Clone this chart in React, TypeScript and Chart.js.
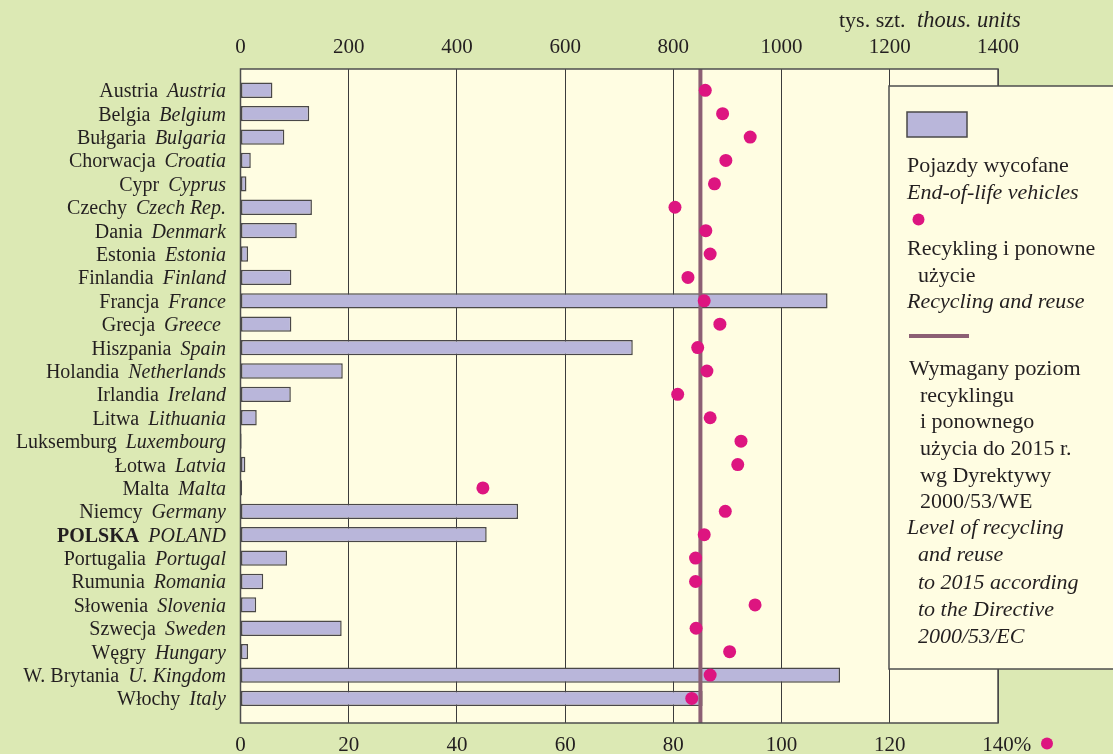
import { useEffect, useRef } from "react";
import { Chart, registerables } from "chart.js";

Chart.register(...registerables);

const namesPL = ["Austria", "Belgia", "Bułgaria", "Chorwacja", "Cypr", "Czechy", "Dania", "Estonia", "Finlandia", "Francja", "Grecja", "Hiszpania", "Holandia", "Irlandia", "Litwa", "Luksemburg", "Łotwa", "Malta", "Niemcy", "POLSKA", "Portugalia", "Rumunia", "Słowenia", "Szwecja", "Węgry", "W. Brytania", "Włochy"];
const namesEN = ["Austria", "Belgium", "Bulgaria", "Croatia", "Cyprus", "Czech Rep.", "Denmark", "Estonia", "Finland", "France", "Greece ", "Spain", "Netherlands", "Ireland", "Lithuania", "Luxembourg", "Latvia", "Malta", "Germany", "POLAND", "Portugal", "Romania", "Slovenia", "Sweden", "Hungary", "U. Kingdom", "Italy"];
const vehicles = [59, 127, 81, 19, 11, 132, 104, 14, 94, 1085, 94, 725, 189, 93, 30, 2, 9, 3, 513, 455, 86, 42, 29, 187, 14, 1108, 854];
const recycling = [85.9, 89.1, 94.2, 89.7, 87.6, 80.3, 86.0, 86.8, 82.7, 85.7, 88.6, 84.5, 86.2, 80.8, 86.8, 92.5, 91.9, 44.8, 89.6, 85.7, 84.1, 84.1, 95.1, 84.2, 90.4, 86.8, 83.4];
const requiredLevel = 85;
const boldRow = "POLSKA";
const topTicks = { min: 0, max: 1400, step: 200 };
const bottomTicks = { min: 0, max: 140, step: 20 };
const unitTitlePL = "tys. szt.";
const unitTitleEN = "thous. units";
const legendLines: { text: string; italic: boolean; indent: boolean }[][] = [
  [
    { text: "Pojazdy wycofane", italic: false, indent: false },
    { text: "End-of-life vehicles", italic: true, indent: false },
  ],
  [
    { text: "Recykling i ponowne", italic: false, indent: false },
    { text: "użycie", italic: false, indent: true },
    { text: "Recycling and reuse", italic: true, indent: false },
  ],
  [
    { text: "Wymagany poziom", italic: false, indent: false },
    { text: "recyklingu", italic: false, indent: true },
    { text: "i ponownego", italic: false, indent: true },
    { text: "użycia do 2015 r.", italic: false, indent: true },
    { text: "wg Dyrektywy", italic: false, indent: true },
    { text: "2000/53/WE", italic: false, indent: true },
    { text: "Level of recycling", italic: true, indent: false },
    { text: "and reuse", italic: true, indent: true },
    { text: "to 2015 according", italic: true, indent: true },
    { text: "to the Directive", italic: true, indent: true },
    { text: "2000/53/EC", italic: true, indent: true },
  ],
];

const BG = "#dce9b4";
const PLOT = "#fffde2";
const BAR = "#b9b6da";
const BAR_BORDER = "#4a4848";
const DOT = "#dd1580";
const LINE = "#8c5f74";
const TEXT = "#231f20";
const GRID = "#3c3c3c";
const SERIF = '"Liberation Serif", "Times New Roman", serif';

const Y_MIN = -0.91;
const Y_MAX = 27.05;

export default function App() {
  const ref = useRef<HTMLCanvasElement>(null);

  useEffect(() => {
    const canvas = ref.current;
    if (!canvas) return;

    const decor = {
      id: "decor",
      beforeDraw(chart: any) {
        const { ctx, chartArea: a } = chart;
        ctx.save();
        ctx.fillStyle = BG;
        ctx.fillRect(0, 0, chart.width, chart.height);
        ctx.fillStyle = PLOT;
        ctx.fillRect(a.left, a.top, a.right - a.left, a.bottom - a.top);
        ctx.restore();
      },
      afterDraw(chart: any) {
        const { ctx, chartArea: a } = chart;
        const yScale = chart.scales.y;
        ctx.save();
        // plot border
        ctx.strokeStyle = "#4d4d4d";
        ctx.lineWidth = 1.5;
        ctx.strokeRect(a.left, a.top, a.right - a.left, a.bottom - a.top);

        // category labels
        ctx.fillStyle = TEXT;
        ctx.textBaseline = "alphabetic";
        const rightX = 226;
        for (let i = 0; i < namesPL.length; i++) {
          const y = yScale.getPixelForValue(i) + 7;
          ctx.font = `italic 20px ${SERIF}`;
          const wEN = ctx.measureText(namesEN[i]).width;
          ctx.textAlign = "left";
          ctx.fillText(namesEN[i], rightX - wEN, y);
          ctx.font = namesPL[i] === boldRow ? `bold 20px ${SERIF}` : `20px ${SERIF}`;
          ctx.textAlign = "right";
          ctx.fillText(namesPL[i], rightX - wEN - 9, y);
        }

        // unit title
        ctx.textAlign = "left";
        ctx.font = `22px ${SERIF}`;
        ctx.fillText(unitTitlePL, 839, 27);
        ctx.font = `italic 22.5px ${SERIF}`;
        ctx.fillText(unitTitleEN, 917, 27);

        // percent sign + dot
        ctx.font = `21px ${SERIF}`;
        ctx.textBaseline = "middle";
        const xs = chart.scales.x2;
        const x140 = xs.getPixelForValue(bottomTicks.max);
        const w140 = ctx.measureText(String(bottomTicks.max)).width;
        ctx.fillText("%", x140 + w140 / 2, 745.5);
        ctx.fillStyle = DOT;
        ctx.beginPath();
        ctx.arc(1047, 743.5, 6, 0, Math.PI * 2);
        ctx.fill();

        // legend box
        const lx = 889, ly = 86, lw = 240, lh = 583;
        ctx.fillStyle = PLOT;
        ctx.fillRect(lx, ly, lw, lh);
        ctx.strokeStyle = "#4d4d4d";
        ctx.lineWidth = 1.5;
        ctx.strokeRect(lx, ly, lw, lh);

        // legend bar swatch
        ctx.fillStyle = BAR;
        ctx.fillRect(907, 112, 60, 25);
        ctx.strokeStyle = BAR_BORDER;
        ctx.lineWidth = 1.5;
        ctx.strokeRect(907, 112, 60, 25);

        ctx.textBaseline = "alphabetic";
        ctx.textAlign = "left";
        const drawBlock = (lines: { text: string; italic: boolean; indent: boolean }[], x: number, y0: number, step: number) => {
          lines.forEach((ln, k) => {
            ctx.fillStyle = TEXT;
            ctx.font = `${ln.italic ? "italic " : ""}22px ${SERIF}`;
            ctx.fillText(ln.text, x + (ln.indent ? 11 : 0), y0 + k * step);
          });
        };
        drawBlock(legendLines[0], 907, 172, 26.5);
        ctx.fillStyle = DOT;
        ctx.beginPath();
        ctx.arc(918.5, 219.5, 6, 0, Math.PI * 2);
        ctx.fill();
        drawBlock(legendLines[1], 907, 255, 26.7);
        ctx.strokeStyle = LINE;
        ctx.lineWidth = 4;
        ctx.beginPath();
        ctx.moveTo(909, 336);
        ctx.lineTo(969, 336);
        ctx.stroke();
        drawBlock(legendLines[2].slice(0, 6), 909, 375, 26.65);
        drawBlock(legendLines[2].slice(6), 907, 534, 27.3);
        ctx.restore();
      },
    };

    const chart = new Chart(canvas, {
      type: "bar",
      data: {
        datasets: [
          {
            type: "scatter",
            label: "Recykling i ponowne użycie",
            data: recycling.map((v, i) => ({ x: v, y: i })),
            xAxisID: "x2",
            yAxisID: "y",
            backgroundColor: DOT,
            borderWidth: 0,
            pointRadius: 6.5,
            order: 0,
          } as any,
          {
            type: "line",
            label: "Wymagany poziom",
            data: [
              { x: requiredLevel, y: Y_MIN },
              { x: requiredLevel, y: Y_MAX },
            ],
            xAxisID: "x2",
            yAxisID: "y",
            borderColor: LINE,
            borderWidth: 4,
            pointRadius: 0,
            fill: false,
            order: 1,
          } as any,
          {
            type: "bar",
            label: "Pojazdy wycofane",
            indexAxis: "y",
            grouped: false,
            data: vehicles.map((v, i) => ({ x: v, y: i })),
            xAxisID: "x",
            yAxisID: "y",
            backgroundColor: BAR,
            borderColor: BAR_BORDER,
            borderWidth: 1.5,
            borderSkipped: false,
            maxBarThickness: 16,
            order: 2,
          } as any,
        ],
      },
      options: {
        responsive: false,
        animation: false,
        devicePixelRatio: 1,
        layout: { padding: { left: 0, right: 115, top: 0, bottom: 0 } },
        plugins: {
          legend: { display: false },
          tooltip: { enabled: false },
          title: { display: false },
        },
        scales: {
          x: {
            type: "linear",
            position: "top",
            offset: false,
            min: topTicks.min,
            max: topTicks.max,
            afterFit: (s: any) => {
              s.height = 69;
            },
            ticks: {
              stepSize: topTicks.step,
              color: TEXT,
              font: { family: SERIF, size: 21 },
              padding: 8.5,
              maxRotation: 0,
              autoSkip: false,
              callback: (v: any) => String(v),
            },
            grid: { display: true, offset: false, color: GRID, lineWidth: 1, drawTicks: false },
            border: { display: false },
          },
          x2: {
            type: "linear",
            position: "bottom",
            offset: false,
            min: bottomTicks.min,
            max: bottomTicks.max,
            afterFit: (s: any) => {
              s.height = 31;
            },
            ticks: {
              stepSize: bottomTicks.step,
              color: TEXT,
              font: { family: SERIF, size: 21 },
              padding: 9.5,
              maxRotation: 0,
              autoSkip: false,
              callback: (v: any) => String(v),
            },
            grid: { display: false, offset: false, drawTicks: false },
            border: { display: false },
          },
          y: {
            type: "linear",
            reverse: true,
            offset: false,
            min: Y_MIN,
            max: Y_MAX,
            afterFit: (s: any) => {
              s.width = 240.5;
            },
            ticks: { display: false },
            grid: { display: false, offset: false, drawTicks: false },
            border: { display: false },
          },
        },
      } as any,
      plugins: [decor],
    });

    return () => chart.destroy();
  }, []);

  return (
    <div style={{ position: "absolute", left: 0, top: 0, width: 1113, height: 754 }}>
      <canvas ref={ref} width={1113} height={754} style={{ display: "block" }} />
    </div>
  );
}
